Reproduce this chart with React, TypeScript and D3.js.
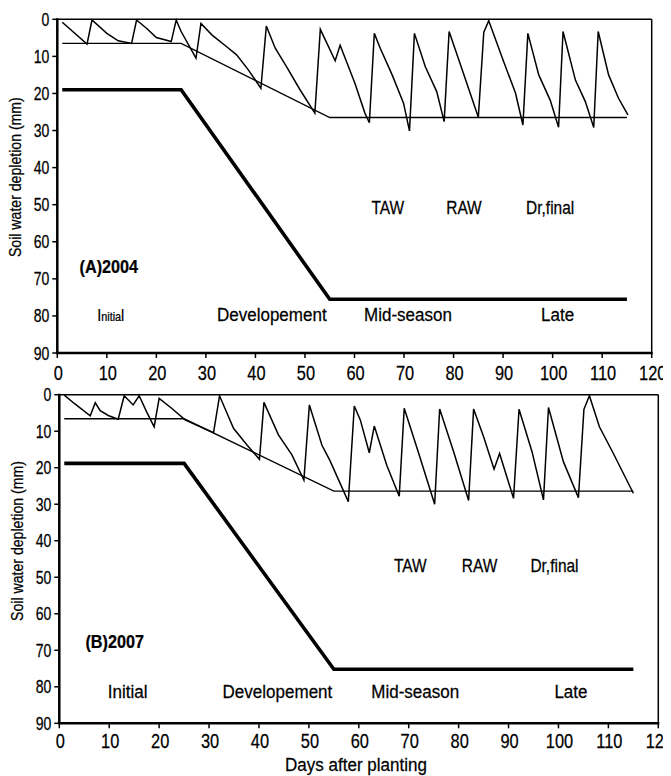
import React from 'react';
import * as d3 from 'd3';

// days after planting / depletion (mm)
const stageDays = [1, 25, 55, 115];
const tawA = [19, 19, 75.5, 75.5];
const rawA = [6.5, 6.5, 26.5, 26.5];
const tawB = [18.8, 18.8, 75.2, 75.2];
const rawB = [6.6, 6.6, 26.4, 26.4];

const drDaysA = [1, 6, 7, 10, 12.3, 15, 16, 18, 20, 23, 24, 25, 28, 29, 31.2, 34.2, 36.2, 38.6, 41.1, 42.2, 44, 46.3, 49, 52, 53.1, 56.1, 57.1, 60.1, 62.1, 63, 64, 65.2, 67.6, 69.9, 71.1, 72.1, 74.3, 76.6, 78.1, 79.1, 82, 85, 86.1, 87.1, 90.1, 92.5, 94, 95, 97.2, 99.5, 101.2, 102.1, 104.6, 106.6, 108.3, 109.2, 111.3, 113.3, 115.2];
const drValsA = [0.8, 6.7, 0.2, 3.8, 5.8, 6.5, 0.2, 2.4, 4.9, 6, 0.2, 3.3, 10.5, 1.1, 4.2, 7.4, 9.6, 13.7, 18.6, 1.8, 7.8, 12.8, 19, 25.3, 2.7, 11.2, 7, 17.3, 25.3, 27.9, 3.8, 7.8, 15, 22.6, 30.1, 3.8, 12.8, 19.5, 27.6, 3.3, 14.6, 26.4, 3.5, 0.4, 11.4, 19.9, 28.5, 3.8, 15, 21.8, 29.1, 3.3, 16.4, 22.2, 29.2, 3.3, 15, 21.3, 25.8];

const drDaysB = [1, 3, 6.2, 7.2, 8.2, 9.8, 11.8, 13, 14.8, 16, 17.5, 19, 20, 22.5, 25.2, 30.9, 32.1, 34.9, 37.6, 40.1, 41, 43.9, 46.6, 49, 50.1, 52.6, 54.2, 57.9, 59.1, 60.3, 62.1, 63.1, 65.6, 68.1, 69.1, 71.9, 75.2, 76.2, 79, 82, 83, 85, 87.1, 88.2, 91, 92.1, 94.7, 97, 98, 101, 104, 105.1, 106.2, 108.2, 111, 115];
const drValsB = [0.1, 2.4, 5.8, 2.2, 4.4, 5.7, 6.7, 0.3, 2.8, 0.3, 4.7, 8.8, 1, 3.7, 6.9, 10.4, 0.3, 9.2, 13.8, 17.7, 2.1, 11, 16.5, 23.4, 2.8, 13.8, 18, 29.3, 3.1, 6.9, 15.9, 8.6, 19.3, 27.8, 3.7, 15.6, 30, 3.9, 15.6, 29, 3.9, 11.5, 20.4, 16.1, 28.4, 4, 15.6, 28.8, 3.5, 18.4, 28.2, 4, 0.3, 8.8, 16.1, 27];

const xTicks = d3.range(0, 121, 10);
const yTicks = d3.range(0, 91, 10);
const legendNames = ['TAW', 'RAW', 'Dr,final'];
const stageNames = ['Initial', 'Developement', 'Mid-season', 'Late'];

const FONT = '"Liberation Sans", Arial, sans-serif';

type Pt = [number, number];
const zip = (xs: number[], ys: number[]): Pt[] => xs.map((x, i) => [x, ys[i]]);

// the original lettering is tall and narrow, squeeze it horizontally
function Txt({ x, y, sx = 1, rot = 0, size, anchor = 'middle', weight, children }: any) {
  const tf = `translate(${x},${y})${rot ? ` rotate(${rot})` : ''} scale(${sx},1)`;
  return (
    <text transform={tf} textAnchor={anchor} fontSize={size} fontWeight={weight}
      stroke="#000" strokeWidth={0.25}>{children}</text>
  );
}

interface PanelProps {
  left: number; right: number; top: number; bottom: number;
  tag: string;
  taw: number[]; raw: number[]; drDays: number[]; drVals: number[];
  legendAt: { x: number[]; y: number };
  stageAt: { x: number[]; y: number };
  tagAt: [number, number];
  smallInitial?: boolean;
  tickLabelDy: number;
  titleShift: number;
}

function Panel(p: PanelProps) {
  const x = d3.scaleLinear().domain([0, 120]).range([p.left, p.right]);
  const y = d3.scaleLinear().domain([0, 90]).range([p.top, p.bottom]);
  const line = d3.line<Pt>().x(d => x(d[0])).y(d => y(d[1]));

  return (
    <g fontFamily={FONT} fill="#000">
      {/* frame */}
      <line x1={x(0)} x2={x(120)} y1={y(0)} y2={y(0)} stroke="#000" strokeWidth={1.5} />
      <line x1={x(120)} x2={x(120)} y1={y(0)} y2={y(90)} stroke="#000" strokeWidth={1.5} />
      <line x1={x(0)} x2={x(0)} y1={y(0) - 1} y2={y(90) + 1} stroke="#000" strokeWidth={2.5} />
      <line x1={x(0) - 1} x2={x(120) + 1} y1={y(90)} y2={y(90)} stroke="#000" strokeWidth={2.5} />

      {yTicks.map(t => (
        <g key={'y' + t}>
          <line x1={x(0) - 5} x2={x(0)} y1={y(t)} y2={y(t)} stroke="#000" strokeWidth={1.5} />
          <Txt x={x(0) - 8} y={y(t) + 6.5} sx={0.78} size={18} anchor="end">{t}</Txt>
        </g>
      ))}
      {xTicks.map(t => (
        <g key={'x' + t}>
          <line x1={x(t)} x2={x(t)} y1={y(90)} y2={y(90) + 5} stroke="#000" strokeWidth={1.5} />
          <Txt x={x(t) + 1} y={y(90) + p.tickLabelDy} sx={0.8} size={20.5}>{t}</Txt>
        </g>
      ))}

      {/* series */}
      <path d={line(zip(stageDays, p.raw)) || ''} fill="none" stroke="#000" strokeWidth={1.4} />
      <path d={line(zip(stageDays, p.taw)) || ''} fill="none" stroke="#000" strokeWidth={3.6} />
      <path d={line(zip(p.drDays, p.drVals)) || ''} fill="none" stroke="#000" strokeWidth={1.5} />

      {legendNames.map((n, i) => (
        <Txt key={n} x={x(p.legendAt.x[i])} y={y(p.legendAt.y)} sx={0.86} size={18}>{n}</Txt>
      ))}
      {stageNames.map((n, i) => (
        n === 'Initial' && p.smallInitial ? (
          <Txt key={n} x={x(p.stageAt.x[i])} y={y(p.stageAt.y)} size={16} sx={0.9}>
            I<tspan fontSize={12}>nitia</tspan>l
          </Txt>
        ) : (
          <Txt key={n} x={x(p.stageAt.x[i])} y={y(p.stageAt.y)} sx={0.92} size={18.5}>{n}</Txt>
        )
      ))}
      <Txt x={x(p.tagAt[0])} y={y(p.tagAt[1])} sx={0.9} size={18} weight="bold">{p.tag}</Txt>

      <Txt x={x(0) - 36} y={(y(0) + y(90)) / 2 + p.titleShift} rot={-90} sx={0.83} size={17}>
        Soil water depletion (mm)
      </Txt>
    </g>
  );
}

export default function App() {
  return (
    <svg width={671} height={776} style={{ display: 'block', marginLeft: -8, marginTop: -8 }}>
      <rect width={671} height={776} fill="#fff" />
      <Panel
        left={57.3} right={651.7} top={19.3} bottom={353}
        tag="(A)2004" taw={tawA} raw={rawA} drDays={drDaysA} drVals={drValsA}
        legendAt={{ x: [66.7, 82.1, 99.5], y: 52.5 }}
        stageAt={{ x: [10.8, 43.3, 70.8, 101], y: 81.5 }}
        tagAt={[10.4, 68.4]} smallInitial tickLabelDy={27} titleShift={-9}
      />
      <Panel
        left={59.3} right={658.3} top={394.7} bottom={723.3}
        tag="(B)2007" taw={tawB} raw={rawB} drDays={drDaysB} drVals={drValsB}
        legendAt={{ x: [70.3, 84.2, 99.2], y: 48.6 }}
        stageAt={{ x: [13.7, 43.7, 71.3, 102.5], y: 83 }}
        tagAt={[11.1, 69.4]} tickLabelDy={25} titleShift={-18}
      />
      <g fontFamily={FONT}>
        <Txt x={356} y={771} sx={0.92} size={18.5}>Days after planting</Txt>
      </g>
    </svg>
  );
}
